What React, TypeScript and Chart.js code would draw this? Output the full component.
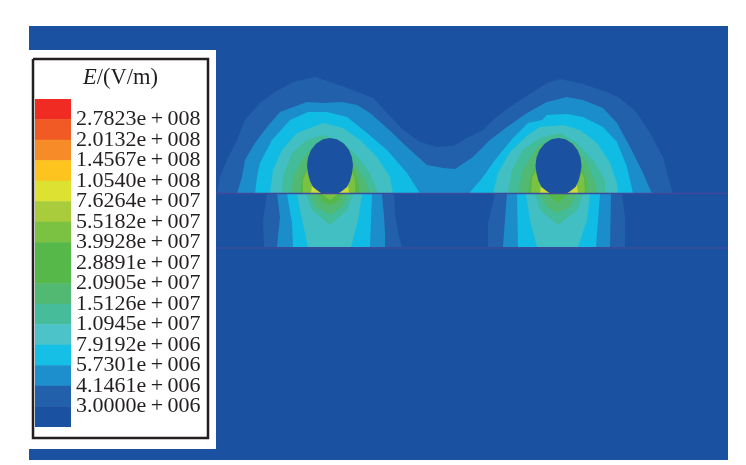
import React, { useEffect, useRef } from "react";
import { Chart, registerables } from "chart.js";

Chart.register(...registerables);

type P = [number, number];

const legendLabels = [
  "2.7823e\u2009+\u2009008", "2.0132e\u2009+\u2009008", "1.4567e\u2009+\u2009008", "1.0540e\u2009+\u2009008",
  "7.6264e\u2009+\u2009007", "5.5182e\u2009+\u2009007", "3.9928e\u2009+\u2009007", "2.8891e\u2009+\u2009007",
  "2.0905e\u2009+\u2009007", "1.5126e\u2009+\u2009007", "1.0945e\u2009+\u2009007", "7.9192e\u2009+\u2009006",
  "5.7301e\u2009+\u2009006", "4.1461e\u2009+\u2009006", "3.0000e\u2009+\u2009006",
];
const legendColors = [
  "#F02B24", "#F15A25", "#F68B28", "#FDC31E", "#DDE232", "#A8CC3C", "#7CC242", "#55B848",
  "#55B848", "#52B973", "#46BC9A", "#4CC3C8", "#15BFE6", "#1D8FCC", "#2360AC", "#1B51A1",
];

const BLUE = "#1B51A1", DARK = "#2360AC", MID = "#1C8DCB", CYAN = "#11BCE4", LTEAL = "#41BFC2";
const TEAL = "#42BC99", SEA = "#52B973", GREEN = "#55B848", LIME = "#7CC242", YELLOW = "#C9DB38";

const frame: P[] = [[29, 26], [728, 26], [728, 460], [29, 460]];
const legendPanel: P[] = [[29, 50], [216, 50], [216, 449], [29, 449]];
const legendBorder: P[] = [[33, 59], [208, 59], [208, 438], [33, 438], [33, 59]];

const darkTop: P[] = [[217, 193.5], [220, 177], [227, 160], [237, 140], [245, 120], [260, 103], [273, 93], [293, 82], [315, 77], [333, 83], [353, 90], [373, 98], [387, 113], [403, 130], [420, 142], [437, 147], [453, 146], [467, 138], [483, 130], [493, 120], [510, 107], [528, 95], [547, 83], [560, 79], [583, 84], [607, 92], [620, 98], [637, 113], [650, 133], [663, 157], [668, 177], [673, 193.5]];
const midTop: P[] = [[237, 193.5], [242, 177], [245, 160], [255, 143], [267, 127], [280, 112], [307, 102], [323, 103], [342, 102], [357, 105], [370, 113], [387, 128], [407, 147], [427, 165], [443, 168], [455, 169], [473, 157], [490, 140], [507, 127], [527, 113], [547, 102], [567, 97], [583, 100], [603, 108], [617, 123], [630, 147], [643, 173], [652, 193.5]];
const cyanTopL: P[] = [[255, 193.5], [257, 177], [260, 163], [272, 140], [290, 120], [308, 112], [327, 112], [347, 117], [367, 133], [387, 150], [407, 173], [420, 193.5]];
const cyanTopR: P[] = [[469, 193.5], [483, 177], [495, 160], [513, 138], [528, 123], [542, 120], [547, 115], [567, 114], [583, 117], [603, 127], [617, 142], [627, 167], [633, 193.5]];
const lightTealTopL: P[] = [[270, 193.5], [273, 170], [282, 150], [297, 133], [323, 123], [343, 128], [360, 140], [377, 157], [390, 177], [393, 193.5]];
const lightTealTopR: P[] = [[493, 193.5], [498, 173], [510, 152], [528, 135], [540, 127], [563, 125], [580, 130], [597, 143], [610, 163], [617, 183], [618, 193.5]];
const tealTopL: P[] = [[282, 193.5], [283, 177], [292, 153], [307, 140], [323, 135], [343, 142], [358, 157], [370, 173], [378, 193.5]];
const tealTopR: P[] = [[508, 193.5], [512, 170], [523, 150], [540, 138], [560, 133], [577, 143], [593, 160], [605, 180], [605, 193.5]];
const seaTopL: P[] = [[292, 193.5], [293, 177], [302, 160], [317, 142], [343, 145], [353, 160], [365, 180], [370, 193.5]];
const seaTopR: P[] = [[518, 193.5], [523, 170], [537, 147], [553, 138], [573, 142], [587, 163], [595, 183], [597, 193.5]];
const greenTopL: P[] = [[300, 193.5], [302, 177], [308, 167], [320, 150], [340, 150], [353, 167], [358, 182], [360, 193.5]];
const greenTopR: P[] = [[528, 193.5], [530, 180], [537, 163], [543, 150], [573, 150], [582, 167], [587, 183], [587, 193.5]];
const limeTopL: P[] = [[303, 193.5], [303, 180], [309, 165], [350, 165], [355, 180], [355, 193.5]];
const limeTopR: P[] = [[531, 193.5], [532, 178], [539, 165], [578, 165], [584, 178], [585, 193.5]];
const yellowTipL1: P[] = [[311, 193.5], [312, 185], [322, 193.5]];
const yellowTipL2: P[] = [[338, 193.5], [348, 185], [349, 193.5]];
const yellowTipR1: P[] = [[540, 193.5], [541, 185], [551, 193.5]];
const yellowTipR2: P[] = [[566, 193.5], [577, 185], [578, 193.5]];

const holeL: P[] = [[330, 138], [337, 139.3], [344, 143.7], [349, 150], [352, 157.5], [353, 165.5], [352, 173.5], [350, 181], [347, 187], [342, 191], [338, 193.5], [322, 193.5], [318, 191], [313, 187], [310, 181], [308, 173.5], [307, 165.5], [308, 157.5], [311, 150], [316, 143.7], [323, 139.3]];
const holeR: P[] = [[558.5, 138], [565.5, 139.3], [572.5, 143.7], [577.5, 150], [580.5, 157.5], [581.5, 165.5], [580.5, 173.5], [578.5, 181], [575.5, 187], [570.5, 191], [566.5, 193.5], [550.5, 193.5], [546.5, 191], [541.5, 187], [538.5, 181], [536.5, 173.5], [535.5, 165.5], [536.5, 157.5], [539.5, 150], [544.5, 143.7], [551.5, 139.3]];

const darkLowL: P[] = [[267, 194], [263, 220], [264, 247], [402, 247], [398, 233], [395, 213], [394, 194]];
const midLowL: P[] = [[277, 194], [280, 217], [277, 247], [385, 247], [385, 233], [384, 217], [382, 194]];
const cyanLowL: P[] = [[287, 194], [292, 223], [293, 247], [370, 247], [371, 220], [372, 194]];
const lightTealLowL: P[] = [[297, 194], [300, 210], [308, 247], [351, 247], [358, 220], [362, 194]];
const tealLowL: P[] = [[306, 194], [312, 210], [330, 225], [347, 210], [353, 194]];
const seaLowL: P[] = [[310, 194], [317, 207], [330, 215], [342, 207], [348, 194]];
const greenLowL: P[] = [[317, 194], [323, 202], [330, 205], [337, 202], [342, 194]];
const limeLowL: P[] = [[322, 194], [330, 200], [338, 194]];

const darkLowR: P[] = [[495, 194], [488, 223], [488, 247], [625, 247], [625, 217], [622, 194]];
const midLowR: P[] = [[507, 194], [505, 220], [503, 247], [610, 247], [611, 194]];
const cyanLowR: P[] = [[517, 194], [518, 247], [596, 247], [600, 194]];
const lightTealLowR: P[] = [[526, 194], [530, 220], [537, 247], [578, 247], [587, 220], [590, 194]];
const tealLowR: P[] = [[535, 194], [540, 210], [558, 225], [577, 210], [583, 194]];
const seaLowR: P[] = [[540, 194], [547, 207], [557, 213], [570, 207], [577, 194]];
const greenLowR: P[] = [[547, 194], [558, 203], [568, 194]];

const layerLineTop: P[] = [[216, 193.5], [728, 193.5]];
const layerLineBottom: P[] = [[216, 248], [728, 248]];

const toData = (pts: P[]) => pts.map(([x, y]) => ({ x, y }));
const shape = (pts: P[], color: string) => ({
  data: toData(pts), showLine: true, fill: "shape" as const, backgroundColor: color,
  borderColor: color, borderWidth: 0, pointRadius: 0,
});
const stroke = (pts: P[], color: string, borderWidth: number) => ({
  data: toData(pts), showLine: true, fill: false, borderColor: color, borderWidth, pointRadius: 0,
});

export default function App() {
  const mainRef = useRef<HTMLCanvasElement>(null);
  const legendRef = useRef<HTMLCanvasElement>(null);

  useEffect(() => {
    // painted bottom-to-top; Chart.js paints the last dataset first, hence the reverse
    const layers = [
      shape(frame, BLUE),
      shape(legendPanel, "#FFFFFF"),
      stroke(legendBorder, "#231F20", 2.5),
      shape(darkTop, DARK), shape(midTop, MID),
      shape(cyanTopL, CYAN), shape(cyanTopR, CYAN),
      shape(lightTealTopL, LTEAL), shape(lightTealTopR, LTEAL),
      shape(tealTopL, TEAL), shape(tealTopR, TEAL),
      shape(seaTopL, SEA), shape(seaTopR, SEA),
      shape(greenTopL, GREEN), shape(greenTopR, GREEN),
      shape(limeTopL, LIME), shape(limeTopR, LIME),
      shape(yellowTipL1, YELLOW), shape(yellowTipL2, YELLOW),
      shape(yellowTipR1, YELLOW), shape(yellowTipR2, YELLOW),
      shape(holeL, BLUE), shape(holeR, BLUE),
      shape(darkLowL, DARK), shape(midLowL, MID), shape(cyanLowL, CYAN), shape(lightTealLowL, LTEAL),
      shape(tealLowL, TEAL), shape(seaLowL, SEA), shape(greenLowL, GREEN), shape(limeLowL, LIME),
      shape(darkLowR, DARK), shape(midLowR, MID), shape(cyanLowR, CYAN), shape(lightTealLowR, LTEAL),
      shape(tealLowR, TEAL), shape(seaLowR, SEA), shape(greenLowR, GREEN),
      stroke(layerLineTop, "#3F4A9C", 1.4), stroke(layerLineBottom, "#3F4A9C", 1.4),
    ];
    const main = new Chart(mainRef.current!, {
      type: "scatter",
      data: { datasets: layers.slice().reverse() as any },
      options: {
        animation: false, responsive: false, devicePixelRatio: 1,
        layout: { padding: 0 },
        plugins: { legend: { display: false }, tooltip: { enabled: false }, filler: { propagate: false } },
        scales: {
          x: { type: "linear", min: 0, max: 746, display: false },
          y: { type: "linear", min: 0, max: 465, reverse: true, display: false },
        },
      },
    });

    const bottomUp = legendColors.slice().reverse();
    const labelsUp = legendLabels.slice().reverse();
    const legend = new Chart(legendRef.current!, {
      type: "bar",
      data: {
        labels: ["E"],
        datasets: bottomUp.map((c, i) => ({
          label: String(i), data: [1], backgroundColor: c, borderWidth: 0,
          categoryPercentage: 1, barPercentage: 1,
        })),
      },
      options: {
        animation: false, responsive: false, devicePixelRatio: 1,
        layout: { padding: 0 },
        plugins: { legend: { display: false }, tooltip: { enabled: false } },
        scales: {
          x: { stacked: true, display: false },
          y: {
            stacked: true, position: "right", min: 0, max: 16,
            grid: { display: false, drawTicks: false }, border: { display: false },
            afterFit: (s: any) => { s.width = 136; s.paddingTop = 0; s.paddingBottom = 0; },
            ticks: {
              stepSize: 1, autoSkip: false, padding: 5, color: "#231F20",
              font: { family: "'Liberation Serif'", size: 22 },
              callback: (v: any) => labelsUp[Number(v) - 1] ?? "",
            },
          },
        },
      },
    });
    return () => { main.destroy(); legend.destroy(); };
  }, []);

  return (
    <div style={{ position: "absolute", left: 0, top: 0, width: 746, height: 465, overflow: "hidden", background: "#fff" }}>
      <canvas ref={mainRef} width={746} height={465} style={{ position: "absolute", left: 0, top: 0 }} />
      <canvas ref={legendRef} width={172} height={328} style={{ position: "absolute", left: 35, top: 99 }} />
      <div style={{ position: "absolute", left: 33, width: 175, top: 64, textAlign: "center", fontFamily: "'Liberation Serif'", fontSize: 22.5, lineHeight: "26px", color: "#231F20" }}>
        <i>E</i>/(V/m)
      </div>
    </div>
  );
}
